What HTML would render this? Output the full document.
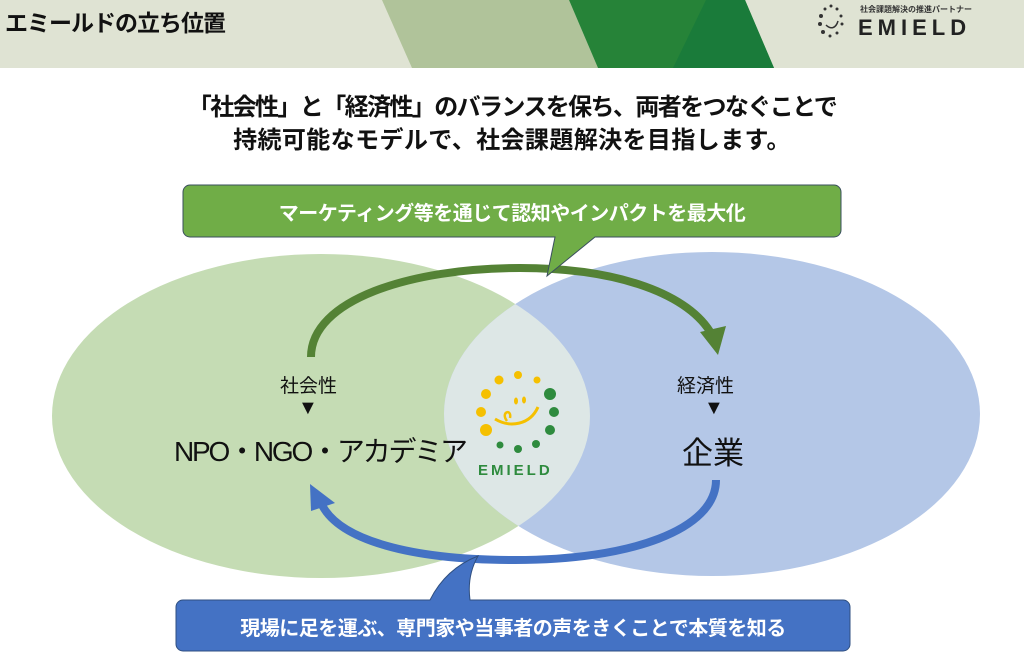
<!DOCTYPE html>
<html><head><meta charset="utf-8"><style>
html,body{margin:0;padding:0;background:#fff;}
body{width:1024px;height:654px;overflow:hidden;position:relative;font-family:"Liberation Sans","Noto Sans CJK JP",sans-serif;}
.t{position:absolute;white-space:nowrap;font-weight:bold;}
</style></head><body>
<svg width="1024" height="654" style="position:absolute;left:0;top:0">
<rect x="0" y="0" width="1024" height="68" fill="#dfe3d3"/>
<polygon points="382,0 569,0 598,68 412,68" fill="#b0c39a"/>
<polygon points="569,0 745,0 774,68 598,68" fill="#268338"/>
<polygon points="706,0 745,0 774,68 673,68" fill="#1a7b3a"/>
<ellipse cx="321" cy="416" rx="269" ry="162" fill="#c5dcb4"/>
<ellipse cx="712" cy="414" rx="268" ry="162" fill="#b4c7e7"/>
<clipPath id="c"><ellipse cx="321" cy="416" rx="269" ry="162"/></clipPath>
<ellipse cx="712" cy="414" rx="268" ry="162" fill="#dde7e6" clip-path="url(#c)"/>
<path d="M311,357 C311,300 410,268 520,268 C620,268 690,295 712,335" fill="none" stroke="#548235" stroke-width="8"/>
<polygon points="700,332 726,326 718,355" fill="#548235"/>
<path d="M716,480 C716,530 630,560 515,560 C410,560 340,540 322,505" fill="none" stroke="#4472c4" stroke-width="8"/>
<polygon points="310,484 335,503 311,511" fill="#4472c4"/>
<path d="M190,185 H834 a7,7 0 0 1 7,7 V230 a7,7 0 0 1 -7,7 H595 L547,276 L555,237 H190 a7,7 0 0 1 -7,-7 V192 a7,7 0 0 1 7,-7 Z" fill="#70ad47" stroke="#3a4f5e" stroke-width="1"/>
<path d="M183,600 H430 C440,580 455,565 478,556 C470,570 468,585 470,600 H843 a7,7 0 0 1 7,7 V644 a7,7 0 0 1 -7,7 H183 a7,7 0 0 1 -7,-7 V607 a7,7 0 0 1 7,-7 Z" fill="#4472c4" stroke="#2f4f80" stroke-width="1"/>
<g>
<circle cx="499" cy="380" r="4.5" fill="#f5c000"/>
<circle cx="518" cy="375" r="4" fill="#f5c000"/>
<circle cx="537" cy="380" r="3.5" fill="#f5c000"/>
<circle cx="486" cy="394" r="5" fill="#f5c000"/>
<circle cx="481" cy="412" r="5" fill="#f5c000"/>
<circle cx="486" cy="430" r="6" fill="#f5c000"/>
<circle cx="550" cy="394" r="6" fill="#2e8b3e"/>
<circle cx="554" cy="412" r="5" fill="#2e8b3e"/>
<circle cx="550" cy="430" r="5" fill="#2e8b3e"/>
<circle cx="500" cy="445" r="3.5" fill="#2e8b3e"/>
<circle cx="518" cy="449" r="4" fill="#2e8b3e"/>
<circle cx="536" cy="444" r="4" fill="#2e8b3e"/>
<path d="M495,419 C510,428 530,425 538,407" fill="none" stroke="#f5c000" stroke-width="3"/>
<path d="M507,421 C500,412 512,408 510,418" fill="none" stroke="#f5c000" stroke-width="2.5"/>
<ellipse cx="516" cy="401" rx="2" ry="3.5" fill="#f5c000"/>
<ellipse cx="524" cy="400" rx="2" ry="3.5" fill="#f5c000"/>
</g>
<g fill="#333">
<circle cx="825" cy="9" r="1.5"/><circle cx="831" cy="6" r="1.5"/><circle cx="837" cy="9" r="1.5"/>
<circle cx="821" cy="16" r="2"/><circle cx="820" cy="24" r="2"/><circle cx="823" cy="32" r="2"/>
<circle cx="841" cy="16" r="1.5"/><circle cx="842" cy="24" r="1.5"/><circle cx="830" cy="36" r="1.5"/><circle cx="837" cy="33" r="1.5"/>
<path d="M826,25 C831,30 836,28 838,21" fill="none" stroke="#333" stroke-width="1.5"/>
</g>
</svg>
<div class="t" style="left:5px;top:4px;font-size:23px;color:#111;letter-spacing:-1px;">エミールドの立ち位置</div>
<div class="t" style="left:860px;top:4px;font-size:8px;color:#333;">社会課題解決の推進パートナー</div>
<div class="t" style="left:858px;top:15px;font-size:22px;color:#222;letter-spacing:5px;">EMIELD</div>
<div class="t" style="left:0;width:1024px;text-align:center;top:91px;font-size:24px;color:#111;letter-spacing:-1.6px;line-height:33px;">「社会性」と「経済性」のバランスを保ち、両者をつなぐことで</div>
<div class="t" style="left:0;width:1024px;text-align:center;top:124px;font-size:24px;color:#111;letter-spacing:0.4px;line-height:33px;">持続可能なモデルで、社会課題解決を目指します。</div>
<div class="t" style="left:183px;width:658px;text-align:center;top:197px;font-size:20px;color:#fff;letter-spacing:-0.5px;">マーケティング等を通じて認知やインパクトを最大化</div>
<div class="t" style="left:176px;width:674px;text-align:center;top:612px;font-size:20px;color:#fff;letter-spacing:-0.5px;">現場に足を運ぶ、専門家や当事者の声をきくことで本質を知る</div>
<div class="t" style="left:280px;top:371px;font-size:19px;color:#111;font-weight:normal;">社会性</div>
<div class="t" style="left:298px;top:397px;font-size:20px;color:#111;font-weight:normal;">▼</div>
<div class="t" style="left:174px;top:430px;font-size:28px;color:#111;font-weight:normal;letter-spacing:-2.2px;">NPO・NGO・アカデミア</div>
<div class="t" style="left:677px;top:371px;font-size:19px;color:#111;font-weight:normal;">経済性</div>
<div class="t" style="left:704px;top:397px;font-size:20px;color:#111;font-weight:normal;">▼</div>
<div class="t" style="left:682px;top:428px;font-size:31px;color:#111;font-weight:normal;">企業</div>
<div class="t" style="left:478px;top:462px;font-size:15px;color:#2e8b3e;letter-spacing:3px;">EMIELD</div>
</body></html>
